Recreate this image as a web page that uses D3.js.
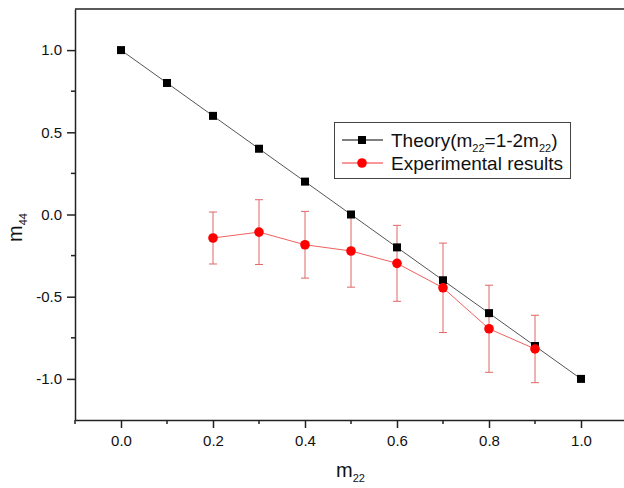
<!DOCTYPE html>
<html>
<head>
<meta charset="utf-8">
<script src="https://cdn.jsdelivr.net/npm/d3@7"></script>
<style>
  body { margin: 0; background: #fff; }
  svg { font-family: "Liberation Sans", Arial, sans-serif; }
</style>
</head>
<body>
<script>
// theory: m44 = 1 - 2 m22
var theoryX = [0.0, 0.1, 0.2, 0.3, 0.4, 0.5, 0.6, 0.7, 0.8, 0.9, 1.0]
var theoryY = [1.0, 0.8, 0.6, 0.4, 0.2, 0.0, -0.2, -0.4, -0.6, -0.8, -1.0]

// experimental results with error bars
var expX = [0.2, 0.3, 0.4, 0.5, 0.6, 0.7, 0.8, 0.9]
var expY = [-0.143, -0.107, -0.184, -0.222, -0.297, -0.446, -0.695, -0.818]
var expErr = [0.158, 0.197, 0.203, 0.22, 0.231, 0.272, 0.265, 0.205]

var xTicks = [0.0, 0.2, 0.4, 0.6, 0.8, 1.0]
var xMinor = [-0.1, 0.1, 0.3, 0.5, 0.7, 0.9]
var yTicks = [-1.0, -0.5, 0.0, 0.5, 1.0]
var yMinor = [-0.75, -0.25, 0.25, 0.75]

var W = 624, H = 488
var mLeft = 75, mTop = 9, mBottom = 420, mRight = 627

var svg = d3.select("body").append("svg")
    .attr("width", W)
    .attr("height", H)

var x = d3.scaleLinear().domain([-0.1, 1.1]).range([mLeft, mLeft + 1.2 * 460])
var y = d3.scaleLinear().domain([-1.25, 1.25]).range([mBottom, mTop])

var axisColor = "#222"
// plain hyphen for negatives, like the original
var fmt = function(d) { return d3.format(".1f")(d).replace("\u2212", "-") }

// frame top
svg.append("line")
    .attr("x1", mLeft).attr("x2", mRight)
    .attr("y1", mTop).attr("y2", mTop)
    .attr("stroke", axisColor).attr("stroke-width", 1.5)

// x axis
var xAxis = svg.append("g")
    .attr("transform", "translate(0," + mBottom + ")")
    .call(d3.axisBottom(x).tickValues(xTicks).tickSize(8).tickSizeOuter(0).tickFormat(fmt))
xAxis.select(".domain").attr("stroke", axisColor).attr("stroke-width", 1.5)
xAxis.selectAll(".tick line").attr("stroke", axisColor).attr("stroke-width", 1.5)
xAxis.selectAll(".tick text")
    .attr("fill", "#111").attr("font-size", 15).attr("y", 26).attr("dy", 0)
    .attr("font-family", "Liberation Sans, Arial, sans-serif")
xAxis.selectAll(".minor").data(xMinor).enter().append("line")
    .attr("x1", function(d) { return x(d) }).attr("x2", function(d) { return x(d) })
    .attr("y1", 0).attr("y2", 4)
    .attr("stroke", axisColor).attr("stroke-width", 1.5)

// y axis
var yAxis = svg.append("g")
    .attr("transform", "translate(" + mLeft + ",0)")
    .call(d3.axisLeft(y).tickValues(yTicks).tickSize(8).tickSizeOuter(0).tickFormat(fmt))
yAxis.select(".domain").attr("stroke", axisColor).attr("stroke-width", 1.5)
yAxis.selectAll(".tick line").attr("stroke", axisColor).attr("stroke-width", 1.5)
yAxis.selectAll(".tick text")
    .attr("fill", "#111").attr("font-size", 15).attr("x", -13)
    .attr("font-family", "Liberation Sans, Arial, sans-serif")
yAxis.selectAll(".minor").data(yMinor).enter().append("line")
    .attr("x1", -4).attr("x2", 0)
    .attr("y1", function(d) { return y(d) }).attr("y2", function(d) { return y(d) })
    .attr("stroke", axisColor).attr("stroke-width", 1.5)

// axis titles
var xt = svg.append("text")
    .attr("x", 336).attr("y", 477)
    .attr("font-size", 20).attr("fill", "#111")
xt.append("tspan").text("m")
xt.append("tspan").attr("dy", 5).attr("font-size", 11).text("22")

var yt = svg.append("text")
    .attr("transform", "translate(22,242) rotate(-90)")
    .attr("font-size", 20).attr("fill", "#111")
yt.append("tspan").text("m")
yt.append("tspan").attr("dy", 5).attr("font-size", 11).text("44")

// theory line
var theory = theoryX.map(function(d, i) { return [d, theoryY[i]] })
svg.append("path")
    .datum(theory)
    .attr("fill", "none").attr("stroke", "#555").attr("stroke-width", 1)
    .attr("d", d3.line().x(function(d) { return x(d[0]) }).y(function(d) { return y(d[1]) }))

// experimental error bars
var exp = expX.map(function(d, i) { return { x: d, y: expY[i], e: expErr[i] } })
var errColor = "#e06666"
var eb = svg.selectAll(".err").data(exp).enter().append("g")
eb.append("line")
    .attr("x1", function(d) { return x(d.x) }).attr("x2", function(d) { return x(d.x) })
    .attr("y1", function(d) { return y(d.y + d.e) }).attr("y2", function(d) { return y(d.y - d.e) })
    .attr("stroke", errColor).attr("stroke-width", 1)
eb.append("line")
    .attr("x1", function(d) { return x(d.x) - 4 }).attr("x2", function(d) { return x(d.x) + 4 })
    .attr("y1", function(d) { return y(d.y + d.e) }).attr("y2", function(d) { return y(d.y + d.e) })
    .attr("stroke", errColor).attr("stroke-width", 1)
eb.append("line")
    .attr("x1", function(d) { return x(d.x) - 4 }).attr("x2", function(d) { return x(d.x) + 4 })
    .attr("y1", function(d) { return y(d.y - d.e) }).attr("y2", function(d) { return y(d.y - d.e) })
    .attr("stroke", errColor).attr("stroke-width", 1)

// theory squares
svg.selectAll(".sq").data(theory).enter().append("rect")
    .attr("x", function(d) { return x(d[0]) - 4 })
    .attr("y", function(d) { return y(d[1]) - 4 })
    .attr("width", 8).attr("height", 8)
    .attr("fill", "#000")

// experimental line + dots
svg.append("path")
    .datum(exp)
    .attr("fill", "none").attr("stroke", "#f06060").attr("stroke-width", 1)
    .attr("d", d3.line().x(function(d) { return x(d.x) }).y(function(d) { return y(d.y) }))

svg.selectAll(".dot").data(exp).enter().append("circle")
    .attr("cx", function(d) { return x(d.x) })
    .attr("cy", function(d) { return y(d.y) })
    .attr("r", 4.8)
    .attr("fill", "#ff0000")

// legend
var lg = svg.append("g")
lg.append("rect")
    .attr("x", 334.5).attr("y", 122.5).attr("width", 236).attr("height", 56)
    .attr("fill", "#fff").attr("stroke", "#444").attr("stroke-width", 1)
lg.append("line").attr("x1", 342).attr("x2", 383).attr("y1", 140).attr("y2", 140)
    .attr("stroke", "#000").attr("stroke-width", 1)
lg.append("rect").attr("x", 358).attr("y", 136).attr("width", 8).attr("height", 8).attr("fill", "#000")
lg.append("line").attr("x1", 342).attr("x2", 383).attr("y1", 163).attr("y2", 163)
    .attr("stroke", "#f03030").attr("stroke-width", 1)
lg.append("circle").attr("cx", 362).attr("cy", 163).attr("r", 4.8).attr("fill", "#ff0000")

var t1 = lg.append("text").attr("x", 391).attr("y", 147).attr("font-size", 19).attr("fill", "#111")
t1.append("tspan").text("Theory(m")
t1.append("tspan").attr("dy", 5).attr("font-size", 11).text("22")
t1.append("tspan").attr("dy", -5).text("=1-2m")
t1.append("tspan").attr("dy", 5).attr("font-size", 11).text("22")
t1.append("tspan").attr("dy", -5).text(")")

lg.append("text").attr("x", 391).attr("y", 170).attr("font-size", 19).attr("fill", "#111")
    .text("Experimental results")
</script>
</body>
</html>
